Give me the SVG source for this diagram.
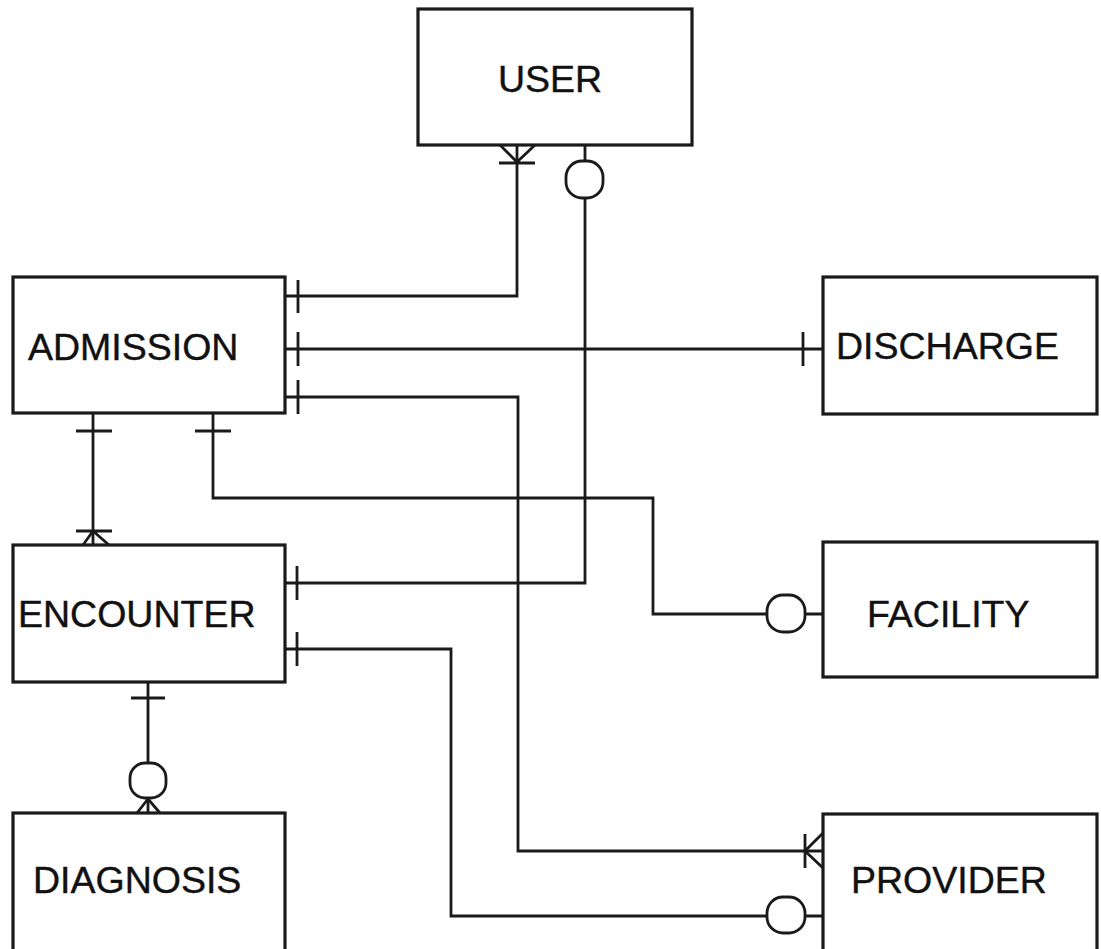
<svg xmlns="http://www.w3.org/2000/svg" width="1101" height="949" viewBox="0 0 1101 949">
<style>
.box{fill:#fff;stroke:#1a1a1a;stroke-width:3.2}
.lbl{font-family:"Liberation Sans",Arial,sans-serif;font-size:37.5px;fill:#111;stroke:#111;stroke-width:0.4}
.ln{fill:none;stroke:#1a1a1a;stroke-width:2.8}
.opt{fill:#fff;stroke:#1a1a1a;stroke-width:2.8}
</style>
<rect width="1101" height="949" fill="#fff"/>
<g id="connectors">
<path class="ln" d="M517,145 V296 H285"/>
<path class="ln" d="M585,145 V161 M585,198 V583 H285"/>
<path class="ln" d="M285,349 H823"/>
<path class="ln" d="M285,397 H518 V851 H823"/>
<path class="ln" d="M93,413 V545"/>
<path class="ln" d="M213,413 V498 H653 V614 H767 M805,614 H823"/>
<path class="ln" d="M285,649 H451 V916 H767 M805,916 H823"/>
<path class="ln" d="M148,682 V763 M148,798 V813"/>
<path class="ln" d="M298,280 V313 M298,332 V366 M298,380 V414"/>
<path class="ln" d="M803,332 V366"/>
<path class="ln" d="M297,566 V600 M297,632 V666"/>
<path class="ln" d="M76,431 H112 M195,431 H231"/>
<path class="ln" d="M131,698 H165"/>
<path class="ln" d="M499,163 H535 M500,145 L517,162 L535,145"/>
<path class="ln" d="M76,531 H112 M83,545 L93,531 L109,545"/>
<path class="ln" d="M137,813 L148,799 L160,813"/>
<path class="ln" d="M805,834 V868 M823,833 L805,851 L823,868"/>
<rect class="opt" x="566" y="161" width="37" height="37" rx="16"/>
<rect class="opt" x="767" y="595" width="38" height="37" rx="16"/>
<rect class="opt" x="767" y="897" width="38" height="36" rx="16"/>
<rect class="opt" x="130" y="763" width="36" height="35" rx="15"/>
</g>
<g id="user"><rect class="box" x="418" y="9" width="274" height="136"/><text class="lbl" x="498" y="92">USER</text></g>
<g id="admission"><rect class="box" x="13" y="277" width="272" height="136"/><text class="lbl" x="28" y="360">ADMISSION</text></g>
<g id="discharge"><rect class="box" x="823" y="277" width="274" height="137"/><text class="lbl" x="836" y="359">DISCHARGE</text></g>
<g id="encounter"><rect class="box" x="13" y="545" width="272" height="137"/><text class="lbl" x="18" y="627">ENCOUNTER</text></g>
<g id="facility"><rect class="box" x="823" y="542" width="274" height="135"/><text class="lbl" x="867" y="627">FACILITY</text></g>
<g id="diagnosis"><rect class="box" x="13" y="813" width="272" height="140"/><text class="lbl" x="33" y="893">DIAGNOSIS</text></g>
<g id="provider"><rect class="box" x="823" y="814" width="274" height="140"/><text class="lbl" x="851" y="893">PROVIDER</text></g>
</svg>
